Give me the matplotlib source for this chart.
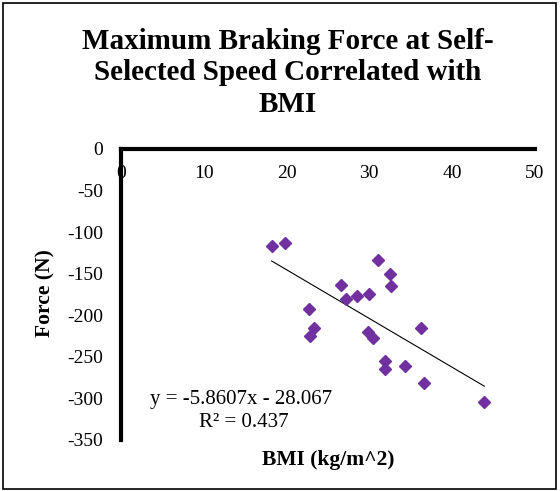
import numpy as np
import matplotlib.pyplot as plt
from matplotlib.patches import Rectangle

# BMI (kg/m^2) and max braking force (N)
bmi = [18.2, 19.8, 31.1, 32.5, 32.6, 26.6, 27.2, 28.5, 30.0, 22.7,
       23.3, 22.9, 29.8, 30.4, 36.2, 31.9, 31.9, 34.3, 36.6, 43.9]
force = [-117, -113, -134, -150, -165, -164, -180, -177, -174, -192,
         -215, -225, -220, -227, -215, -255, -265, -261, -282, -304]

slope = -5.8607
intercept = -28.067
r2 = 0.437

x_ticks = [0, 10, 20, 30, 40, 50]
y_ticks = [0, -50, -100, -150, -200, -250, -300, -350]

plt.rcParams['font.family'] = ['Liberation Serif', 'DejaVu Serif']

fig = plt.figure(figsize=(5.6, 4.91), dpi=100)
ax = fig.add_axes([0.216, 0.104, 0.739, 0.5927])

ax.plot(bmi, force, linestyle='none', marker='D', markersize=6.6,
        color='#7030A0', zorder=3)

# linear trendline over the data range
xs = np.array([min(bmi), max(bmi)])
ax.plot(xs, slope * xs + intercept, color='black', linewidth=0.8, zorder=2)

ax.set_xlim(0, 50)
ax.set_ylim(-350, 0)
ax.set_xticks(x_ticks)
ax.set_yticks(y_ticks)
ax.set_xticklabels([str(v) for v in x_ticks], fontsize=14)
ax.set_yticklabels([str(v) for v in y_ticks], fontsize=14)
# x labels hang just under the top axis line
ax.tick_params(axis='x', length=0, pad=-24, labeltop=True, labelbottom=False)
ax.tick_params(axis='y', length=0, pad=13)

for s in ['right', 'bottom']:
    ax.spines[s].set_visible(False)
ax.spines['top'].set_linewidth(3)
ax.spines['left'].set_linewidth(3)
ax.spines['top'].set_capstyle('projecting')
ax.spines['left'].set_capstyle('projecting')

fig.text(150 / 560, 1 - 404 / 491, f'y = {slope}x - {-intercept}',
         fontsize=15, va='baseline')
fig.text(199 / 560, 1 - 427 / 491, f'R² = {r2}',
         fontsize=15, va='baseline')

fig.text(328 / 560, 1 - 460 / 491, 'BMI (kg/m^2)', ha='center', va='center',
         fontsize=15.5, fontweight='bold')
fig.text(45 / 560, 1 - 293 / 491, 'Force (N)', ha='center', va='center',
         rotation=90, fontsize=15.5, fontweight='bold')

fig.text(288 / 560, 1 - 73 / 491,
         'Maximum Braking Force at Self-\nSelected Speed Correlated with\nBMI',
         ha='center', va='center', fontsize=21, fontweight='bold',
         linespacing=1.2)

fig.patches.append(Rectangle((3 / 560, 2 / 491), 553 / 560, 486 / 491,
                             transform=fig.transFigure, fill=False,
                             edgecolor='black', linewidth=1.2))

fig.savefig('out.png', dpi=100)
